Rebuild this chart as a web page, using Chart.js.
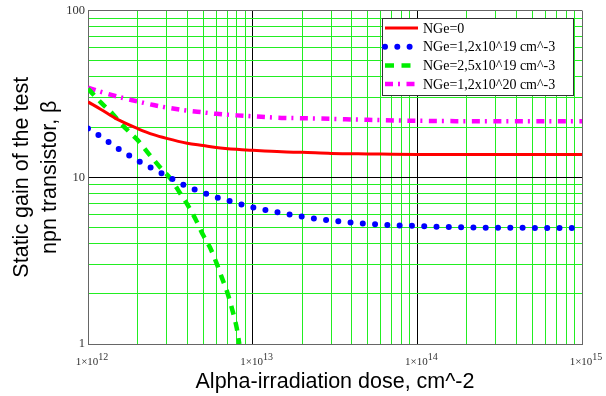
<!DOCTYPE html>
<html>
<head>
<meta charset="utf-8">
<script src="https://cdn.jsdelivr.net/npm/chart.js@4/dist/chart.umd.min.js"></script>
<style>
  html, body { margin: 0; padding: 0; background: #fff; }
  #wrap { width: 606px; height: 396px; }
</style>
</head>
<body>
<div id="wrap"><canvas id="grafico" width="606" height="396"></canvas></div>
<script>
// doses (cm^-2) shared by three curves
const doses = [1e12, 1.2e12, 1.5e12, 2e12, 2.5e12, 3e12, 4e12, 5e12, 6e12, 8e12,
  1e13, 1.5e13, 2e13, 3e13, 5e13, 1e14, 2e14, 5e14, 1e15];
const ganho0 = [28.3, 25.5, 22.3, 19.6, 18.0, 17.1, 16.0, 15.5, 15.1, 14.7,
  14.5, 14.2, 14.1, 13.9, 13.8, 13.7, 13.7, 13.7, 13.7];
const ganho12e19 = [19.6, 17.5, 15.0, 12.6, 11.2, 10.2, 8.8, 8.1, 7.6, 7.0,
  6.6, 6.1, 5.8, 5.5, 5.25, 5.1, 5.0, 4.97, 4.95];
const ganho12e20 = [34.5, 32.5, 30.5, 28.5, 27.1, 26.2, 25.1, 24.5, 24.0, 23.5,
  23.2, 22.7, 22.6, 22.4, 22.1, 21.8, 21.7, 21.7, 21.7];
// NGe=2,5x10^19 curve falls off the bottom of the axis
const dosesVerde = [1e12, 1.2e12, 1.4e12, 1.6e12, 1.8e12, 2e12, 2.4e12, 2.8e12, 3.2e12, 3.6e12,
  4e12, 4.5e12, 5e12, 5.5e12, 6e12, 6.5e12, 7e12, 7.5e12, 8e12, 8.3e12];
const ganho25e19 = [34, 28, 24.2, 20.8, 18.5, 16.7, 13.4, 11.2, 9.7, 8.1,
  6.9, 5.6, 4.5, 3.8, 3.1, 2.5, 2.05, 1.62, 1.25, 1.0];

const rotulos = ['NGe=0', 'NGe=1,2x10^19 cm^-3', 'NGe=2,5x10^19 cm^-3', 'NGe=1,2x10^20 cm^-3'];
const xTicks = [1e12, 1e13, 1e14, 1e15];
const yTicks = [1, 10, 100];

const pontos = (xs, ys) => xs.map((x, i) => ({ x: x, y: ys[i] }));

function escalaLog(min, max) {
  const t = [];
  for (let e = Math.log10(min); e < Math.log10(max); e++) {
    for (let s = 1; s < 10; s++) t.push(s * Math.pow(10, e));
  }
  t.push(max);
  return t;
}

function corGrade(ctx, min, max) {
  const v = ctx.tick.value;
  if (v === min || v === max) return '#666';
  const lg = Math.log10(v);
  if (Math.abs(lg - Math.round(lg)) < 1e-9) return '#000';
  return '#22ee22';
}

// x tick labels "1×10" with a real superscript exponent
const rotulosX = {
  id: 'rotulosX',
  afterDraw(chart) {
    const c = chart.ctx;
    const sx = chart.scales.x;
    const y = sx.top + 18;
    c.save();
    c.fillStyle = '#333';
    c.textBaseline = 'middle';
    xTicks.forEach(v => {
      const px = sx.getPixelForValue(v);
      const base = '1×10';
      const exp = String(Math.round(Math.log10(v)));
      c.font = '11px "Liberation Serif", serif';
      const wb = c.measureText(base).width;
      c.font = '10px "Liberation Serif", serif';
      const we = c.measureText(exp).width;
      const x0 = px - (wb + we) / 2 + 4;
      c.font = '11px "Liberation Serif", serif';
      c.textAlign = 'left';
      c.fillText(base, x0, y);
      c.font = '10px "Liberation Serif", serif';
      c.fillText(exp, x0 + wb, y - 5);
    });
    c.restore();
  }
};

const legenda = {
  id: 'legenda',
  afterDraw(chart) {
    const c = chart.ctx;
    const x0 = 382, y0 = 18, w = 191, h = 77;
    c.save();
    c.fillStyle = '#fff';
    c.fillRect(x0, y0, w, h);
    c.strokeStyle = '#333';
    c.lineWidth = 1;
    c.strokeRect(x0 + 0.5, y0 + 0.5, w, h);
    c.font = '14px "Liberation Serif", serif';
    c.textBaseline = 'middle';
    chart.data.datasets.forEach((ds, i) => {
      const y = y0 + 10 + i * 18.7;
      c.beginPath();
      c.strokeStyle = ds.borderColor;
      c.lineWidth = ds.borderWidth;
      c.lineCap = ds.borderCapStyle || 'butt';
      c.setLineDash(ds.borderDash || []);
      c.moveTo(x0 + 3, y);
      c.lineTo(x0 + 36, y);
      c.stroke();
      c.setLineDash([]);
      c.fillStyle = '#000';
      c.fillText(ds.label, x0 + 41, y + 1);
    });
    c.restore();
  }
};

new Chart(document.getElementById('grafico'), {
  type: 'line',
  data: {
    datasets: [
      { label: rotulos[0], data: pontos(doses, ganho0), borderColor: '#ff0000', borderWidth: 3 },
      { label: rotulos[1], data: pontos(doses, ganho12e19), borderColor: '#0000ff', borderWidth: 6,
        borderDash: [0, 12.3], borderCapStyle: 'round' },
      { label: rotulos[2], data: pontos(dosesVerde, ganho25e19), borderColor: '#00ee00', borderWidth: 4.5,
        borderDash: [9, 7.5] },
      { label: rotulos[3], data: pontos(doses, ganho12e20), borderColor: '#ff00ff', borderWidth: 4.5,
        borderDash: [8, 5, 2, 6.5] }
    ]
  },
  options: {
    responsive: false,
    animation: false,
    layout: { padding: { top: 10, right: 24, left: 0, bottom: 0 } },
    elements: {
      point: { radius: 0 },
      line: { cubicInterpolationMode: 'monotone', fill: false }
    },
    plugins: { legend: { display: false }, tooltip: { enabled: false } },
    scales: {
      x: {
        type: 'logarithmic',
        min: 1e12,
        max: 1e15,
        afterBuildTicks: s => { s.ticks = escalaLog(1e12, 1e15).map(v => ({ value: v })); },
        afterFit: s => { s.height = 52; },
        grid: { color: ctx => corGrade(ctx, 1e12, 1e15), lineWidth: 1, drawTicks: false },
        border: { color: '#666', width: 1 },
        ticks: { autoSkip: false, maxRotation: 0, display: false },
        title: {
          display: true,
          text: 'Alpha-irradiation dose, cm^-2',
          color: '#000',
          font: { family: '"Liberation Sans", Arial, sans-serif', size: 21.5 },
          padding: { top: 0, bottom: 1 }
        }
      },
      y: {
        type: 'logarithmic',
        min: 1,
        max: 100,
        afterBuildTicks: s => { s.ticks = escalaLog(1, 100).map(v => ({ value: v })); },
        afterFit: s => { s.width = 88; },
        grid: { color: ctx => corGrade(ctx, 1, 100), lineWidth: 1, drawTicks: false },
        border: { color: '#666', width: 1 },
        ticks: {
          autoSkip: false,
          padding: 3,
          color: '#333',
          font: { family: '"Liberation Serif", serif', size: 12.5 },
          callback: v => yTicks.includes(v) ? String(v) : ''
        },
        title: {
          display: true,
          text: ['Static gain of the test', 'npn transistor, β'],
          color: '#000',
          font: { family: '"Liberation Sans", Arial, sans-serif', size: 21.5, lineHeight: 1.3 },
          padding: { top: 8, bottom: 0 }
        }
      }
    }
  },
  plugins: [legenda, rotulosX]
});
</script>
</body>
</html>
